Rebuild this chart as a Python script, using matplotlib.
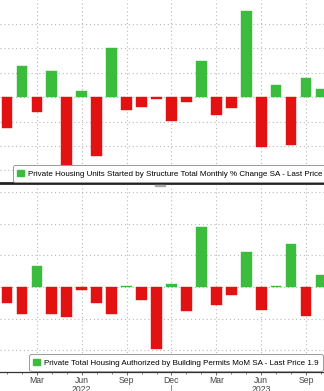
#!/usr/bin/env python3
# Housing starts / building permits MoM, Bloomberg style two-panel bar chart

import matplotlib
matplotlib.use('Agg')
import matplotlib.pyplot as plt
import matplotlib.patches as mpatches
import matplotlib.transforms as mtransforms
from matplotlib.ticker import MultipleLocator

# Jan 2022 .. Oct 2023
months = ['Jan', 'Feb', 'Mar', 'Apr', 'May', 'Jun', 'Jul', 'Aug', 'Sep', 'Oct', 'Nov', 'Dec',
          'Jan', 'Feb', 'Mar', 'Apr', 'May', 'Jun', 'Jul', 'Aug', 'Sep', 'Oct']
starts_mom = [-6.4, 6.3, -3.1, 5.4, -15.0, 1.3, -12.0, 10.0, -2.6, -2.1, -0.3,
              -4.8, -1.1, 7.3, -3.7, -2.2, 17.6, -10.2, 2.4, -9.9, 4.0, 1.6]
permits_mom = [-2.5, -4.2, 3.4, -4.3, -4.7, -0.4, -2.5, -4.3, 0.1, -2.0, -9.8,
               0.5, -3.8, 9.5, -2.9, -1.3, 5.6, -3.6, 0.1, 6.8, -4.5, 1.9]
tick_idx    = [2, 5, 8, 11, 14, 17, 20]
year_labels = {5: '2022', 17: '2023'}

starts_label  = 'Private Housing Units Started by Structure Total Monthly % Change SA - Last Price 1.6'
permits_label = 'Private Total Housing Authorized by Building Permits MoM SA - Last Price 1.9'

GREEN = '#3cbc3c'
RED   = '#e31212'
GRID  = '#b8b8b8'
FONT  = ['Liberation Sans Narrow', 'Liberation Sans', 'DejaVu Sans']

W, H = 324, 391
fig = plt.figure(figsize=(W / 100, H / 100), dpi=100)
fig.patch.set_facecolor('white')

ax1 = fig.add_axes([0, 1 - 183 / H, 1, 183 / H])
ax2 = fig.add_axes([0, (H - 372) / H, 1, (372 - 185) / H])

x = list(range(len(months)))
xlim = (-7 / 14.95, (W - 7) / 14.95)


def draw_panel(ax, vals, ylim, label, legend_anchor, legend_loc):
    cols = [GREEN if v >= 0 else RED for v in vals]
    ax.bar(x, vals, width=0.72, color=cols, edgecolor=cols, linewidth=0.3, zorder=3)
    ax.set_xlim(*xlim)
    ax.set_ylim(*ylim)
    ax.yaxis.set_major_locator(MultipleLocator(5))
    ax.set_xticks(tick_idx)
    ax.set_xticks(x, minor=True)
    ax.grid(True, which='major', color=GRID, linestyle=(0, (1, 2.5)), linewidth=0.8, zorder=0)
    for s in ['left', 'right', 'top']:
        ax.spines[s].set_visible(False)
    ax.tick_params(axis='y', left=False, labelleft=False)
    handle = mpatches.Patch(color=GREEN, label=label)
    leg = ax.legend(handles=[handle], loc=legend_loc, bbox_to_anchor=legend_anchor,
                    prop={'family': FONT, 'size': 5.8}, frameon=True, fancybox=True,
                    handlelength=0.8, handleheight=0.8, handletextpad=0.5,
                    borderpad=0.55, borderaxespad=0)
    leg.get_frame().set_edgecolor('#9a9a9a')
    leg.get_frame().set_linewidth(0.7)
    leg.get_frame().set_alpha(1)
    leg.set_zorder(5)


draw_panel(ax1, starts_mom, (-17.6, 19.9), starts_label, (13 / W, 0.005), 'lower left')
draw_panel(ax2, permits_mom, (-13.4, 16.1), permits_label, (323 / W, 0.005), 'lower right')

# top panel: divider line, no tick labels
ax1.spines['bottom'].set_color('#222222')
ax1.spines['bottom'].set_linewidth(2)
ax1.tick_params(axis='x', which='both', bottom=False, labelbottom=False)
fig.patches.append(mpatches.Rectangle((155 / W, 1 - 186 / H), 10 / W, 1.2 / H,
                                      transform=fig.transFigure, color='#aaaaaa'))

# bottom panel: month labels, years below
ax2.spines['bottom'].set_color('#333333')
ax2.spines['bottom'].set_linewidth(0.9)
ax2.set_xticklabels([months[i] for i in tick_idx], family=FONT, fontsize=6.2, color='#444444')
ax2.tick_params(axis='x', which='major', length=2.5, width=0.6, pad=0.5, color='#555555')
ax2.tick_params(axis='x', which='minor', length=1.5, width=0.5, color='#555555')
trans = mtransforms.blended_transform_factory(ax2.transData, ax2.transAxes)
for i, yr in year_labels.items():
    ax2.text(i, -0.068, yr, transform=trans, ha='center', va='top',
             family=FONT, fontsize=6.2, color='#444444')
ax2.plot([11, 11], [-0.07, -0.14], transform=trans, color='#777777',
         linewidth=0.6, clip_on=False)

fig.savefig('out.png', dpi=100, facecolor='white')
